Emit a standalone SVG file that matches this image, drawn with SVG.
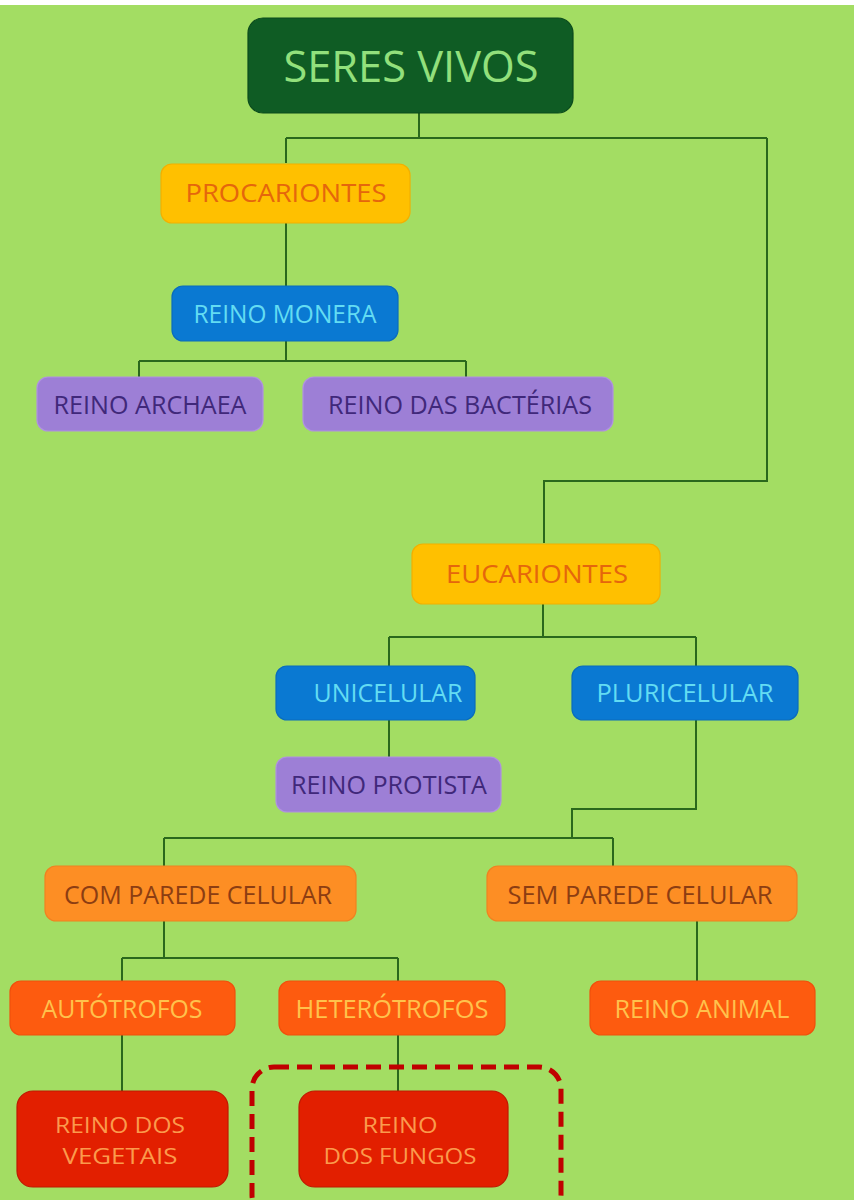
<svg xmlns="http://www.w3.org/2000/svg" width="854" height="1200" viewBox="0 0 854 1200">
<style>
text{font-family:"Open Sans","Noto Sans","DejaVu Sans",sans-serif;text-anchor:middle;font-size:25px}
.c path{fill:none;stroke:#2a681c;stroke-width:2}
rect.n{stroke-width:1.2}
.root rect{fill:#0f5c24;stroke:#0b4a1c}
.root text{fill:#92e07c;font-size:43px}
.yel rect{fill:#ffc000;stroke:#f2b000}
.yel text{fill:#e5660c}
.blu rect{fill:#0a79d2;stroke:#0a6cbc}
.blu text{fill:#63dcf3}
.pur rect{fill:#9d7fd6;stroke:#b092e0}
.pur text{fill:#40287a}
.org rect{fill:#fd8e24;stroke:#f08220}
.org text{fill:#8c3d12}
.ora rect{fill:#fd5b0f;stroke:#f0500c}
.ora text{fill:#ffc24c}
.red rect{fill:#e21f00;stroke:#c01800}
.red text{fill:#fb9a4c;font-size:22px}
</style>
<rect width="854" height="1200" fill="#a3dd63"/>
<rect width="854" height="5" fill="#ffffff"/>
<g class="c">
<path d="M419 113V138M286 138H767M286 138V163M767 138V481H544V543"/>
<path d="M286 223V286M286 341V361M139 361H466M139 361V377M466 361V377"/>
<path d="M543 604V637M389 637H696M389 637V666M696 637V666M389 720V757"/>
<path d="M696 720V809H572V838M164 838H613M164 838V866M613 838V866"/>
<path d="M164 921V958M122 958H398M122 958V981M398 958V981M697 921V981"/>
<path d="M122 1035V1091M398 1035V1091"/>
</g>
<g id="seres-vivos" class="root"><rect class="n" x="248" y="18" width="325" height="95" rx="15"/><text x="411" y="82" textLength="255" lengthAdjust="spacingAndGlyphs">SERES VIVOS</text></g>
<g id="procariontes" class="yel"><rect class="n" x="161" y="164" width="249" height="59" rx="11"/><text x="286" y="202" textLength="201" lengthAdjust="spacingAndGlyphs">PROCARIONTES</text></g>
<g id="reino-monera" class="blu"><rect class="n" x="172" y="286" width="226" height="55" rx="11"/><text x="285" y="323" textLength="183" lengthAdjust="spacingAndGlyphs">REINO MONERA</text></g>
<g id="reino-archaea" class="pur"><rect class="n" x="37" y="377" width="226" height="54" rx="11"/><text x="150" y="414" textLength="193" lengthAdjust="spacingAndGlyphs">REINO ARCHAEA</text></g>
<g id="reino-bacterias" class="pur"><rect class="n" x="303" y="377" width="310" height="54" rx="11"/><text x="460" y="414" textLength="264" lengthAdjust="spacingAndGlyphs">REINO DAS BACTÉRIAS</text></g>
<g id="eucariontes" class="yel"><rect class="n" x="412" y="544" width="248" height="60" rx="11"/><text x="537" y="583" textLength="182" lengthAdjust="spacingAndGlyphs">EUCARIONTES</text></g>
<g id="unicelular" class="blu"><rect class="n" x="276" y="666" width="199" height="54" rx="11"/><text x="388" y="702" textLength="149" lengthAdjust="spacingAndGlyphs">UNICELULAR</text></g>
<g id="pluricelular" class="blu"><rect class="n" x="572" y="666" width="226" height="54" rx="11"/><text x="685" y="702" textLength="177" lengthAdjust="spacingAndGlyphs">PLURICELULAR</text></g>
<g id="reino-protista" class="pur"><rect class="n" x="276" y="757" width="225" height="55" rx="11"/><text x="389" y="794" textLength="196" lengthAdjust="spacingAndGlyphs">REINO PROTISTA</text></g>
<g id="com-parede" class="org"><rect class="n" x="45" y="866" width="311" height="55" rx="11"/><text x="198" y="904" textLength="268" lengthAdjust="spacingAndGlyphs">COM PAREDE CELULAR</text></g>
<g id="sem-parede" class="org"><rect class="n" x="487" y="866" width="310" height="55" rx="11"/><text x="640" y="904" textLength="265" lengthAdjust="spacingAndGlyphs">SEM PAREDE CELULAR</text></g>
<g id="autotrofos" class="ora"><rect class="n" x="10" y="981" width="225" height="54" rx="11"/><text x="122" y="1018" textLength="161" lengthAdjust="spacingAndGlyphs">AUTÓTROFOS</text></g>
<g id="heterotrofos" class="ora"><rect class="n" x="279" y="981" width="226" height="54" rx="11"/><text x="392" y="1018" textLength="193" lengthAdjust="spacingAndGlyphs">HETERÓTROFOS</text></g>
<g id="reino-animal" class="ora"><rect class="n" x="590" y="981" width="225" height="54" rx="11"/><text x="702" y="1018" textLength="175" lengthAdjust="spacingAndGlyphs">REINO ANIMAL</text></g>
<g id="reino-vegetais" class="red"><rect class="n" x="17" y="1091" width="211" height="96" rx="16"/><text x="120" y="1133" textLength="130" lengthAdjust="spacingAndGlyphs">REINO DOS</text><text x="120" y="1164" textLength="115" lengthAdjust="spacingAndGlyphs">VEGETAIS</text></g>
<g id="reino-fungos" class="red"><rect class="n" x="299" y="1091" width="209" height="96" rx="16"/><text x="400" y="1133" textLength="75" lengthAdjust="spacingAndGlyphs">REINO</text><text x="400" y="1164" textLength="153" lengthAdjust="spacingAndGlyphs">DOS FUNGOS</text></g>
<rect id="destaque" x="252" y="1067" width="309" height="150" rx="22" fill="none" stroke="#c00000" stroke-width="5" stroke-dasharray="15 8"/>
</svg>
